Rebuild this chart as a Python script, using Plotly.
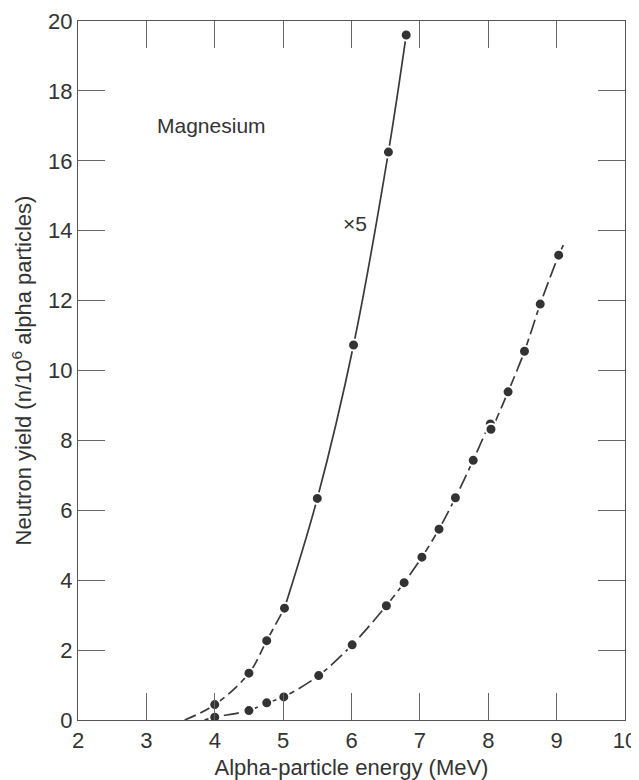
import plotly.graph_objects as go

# ---- data ----
# Steep curve (values x5)
steep_E = [4.0, 4.5, 4.76, 5.02, 5.5, 6.03, 6.54, 6.8]
steep_Y = [0.44, 1.34, 2.27, 3.2, 6.34, 10.73, 16.25, 19.6]
# line start of the steep curve (where it leaves the axis)
steep_start_E = [3.56]
steep_start_Y = [0.0]

# Lower curve
low_E = [4.0, 4.5, 4.76, 5.01, 5.52, 6.01, 6.51, 6.77, 7.03, 7.28, 7.52,
         7.78, 8.03, 8.04, 8.29, 8.53, 8.76, 9.03]
low_Y = [0.08, 0.27, 0.49, 0.66, 1.27, 2.15, 3.27, 3.93, 4.66, 5.46, 6.36,
         7.43, 8.47, 8.32, 9.39, 10.55, 11.9, 13.3]
low_start_E = [3.85]
low_start_Y = [0.0]
low_end_E = [9.1]
low_end_Y = [13.6]

x_ticks = [2, 3, 4, 5, 6, 7, 8, 9, 10]
y_ticks = [0, 2, 4, 6, 8, 10, 12, 14, 16, 18, 20]

LINE = "#3a3a3a"
MARK = "#333333"
FONT = "Liberation Sans, Arial, sans-serif"

fig = go.Figure()

# steep curve: dashed lower part
n_dash = 4  # points up to E=5
fig.add_trace(go.Scatter(
    x=steep_start_E + steep_E[:n_dash], y=steep_start_Y + steep_Y[:n_dash],
    mode="lines", line=dict(color=LINE, width=1.7, dash="12px,5px", shape="spline"),
    hoverinfo="skip", showlegend=False))
# steep curve: solid upper part
fig.add_trace(go.Scatter(
    x=steep_E[n_dash - 1:], y=steep_Y[n_dash - 1:],
    mode="lines", line=dict(color=LINE, width=1.7, shape="spline"),
    hoverinfo="skip", showlegend=False))

# lower curve: dashed
lx = low_start_E + low_E + low_end_E
ly = low_start_Y + low_Y + low_end_Y
fig.add_trace(go.Scatter(
    x=lx, y=ly, mode="lines",
    line=dict(color=LINE, width=1.7, dash="15px,5px", shape="spline", smoothing=0.8),
    hoverinfo="skip", showlegend=False))

# markers
for xs, ys in [(steep_E, steep_Y), (low_E, low_Y)]:
    fig.add_trace(go.Scatter(
        x=xs, y=ys, mode="markers",
        marker=dict(size=11, color=MARK, line=dict(color="white", width=2)),
        showlegend=False))

fig.add_annotation(x=3.12, y=17.0, text="Magnesium", showarrow=False,
                   xanchor="left", yanchor="middle",
                   font=dict(family=FONT, size=21, color="#333"))
fig.add_annotation(x=6.05, y=14.2, text="×5", showarrow=False,
                   xanchor="center", yanchor="middle",
                   font=dict(family=FONT, size=21, color="#333"))

axis_common = dict(
    showgrid=False, zeroline=False, showline=True, linecolor="#555", linewidth=1.2,
    ticks="inside", ticklen=27, tickwidth=1, tickcolor="#666", mirror="ticks",
    tickfont=dict(family=FONT, size=22, color="#333"),
)

fig.update_xaxes(range=[2, 10], tickvals=x_ticks, ticktext=[str(v) for v in x_ticks],
                 title=dict(text="Alpha-particle energy (MeV)", standoff=9,
                            font=dict(family=FONT, size=22, color="#333")),
                 **axis_common)
fig.update_yaxes(range=[0, 20], tickvals=y_ticks, ticktext=[str(v) for v in y_ticks],
                 title=dict(text="Neutron yield (n/10<sup>6</sup> alpha particles)", standoff=12,
                            font=dict(family=FONT, size=22, color="#333")),
                 **axis_common)

# the page body has an 8px margin, so the figure is drawn 8px in from the top-left
fig.update_layout(
    width=631, height=772,
    margin=dict(l=70, r=14, t=13, b=60, autoexpand=False),
    plot_bgcolor="white", paper_bgcolor="white",
    font=dict(family=FONT, color="#333"),
)

fig.write_html("out.html")
